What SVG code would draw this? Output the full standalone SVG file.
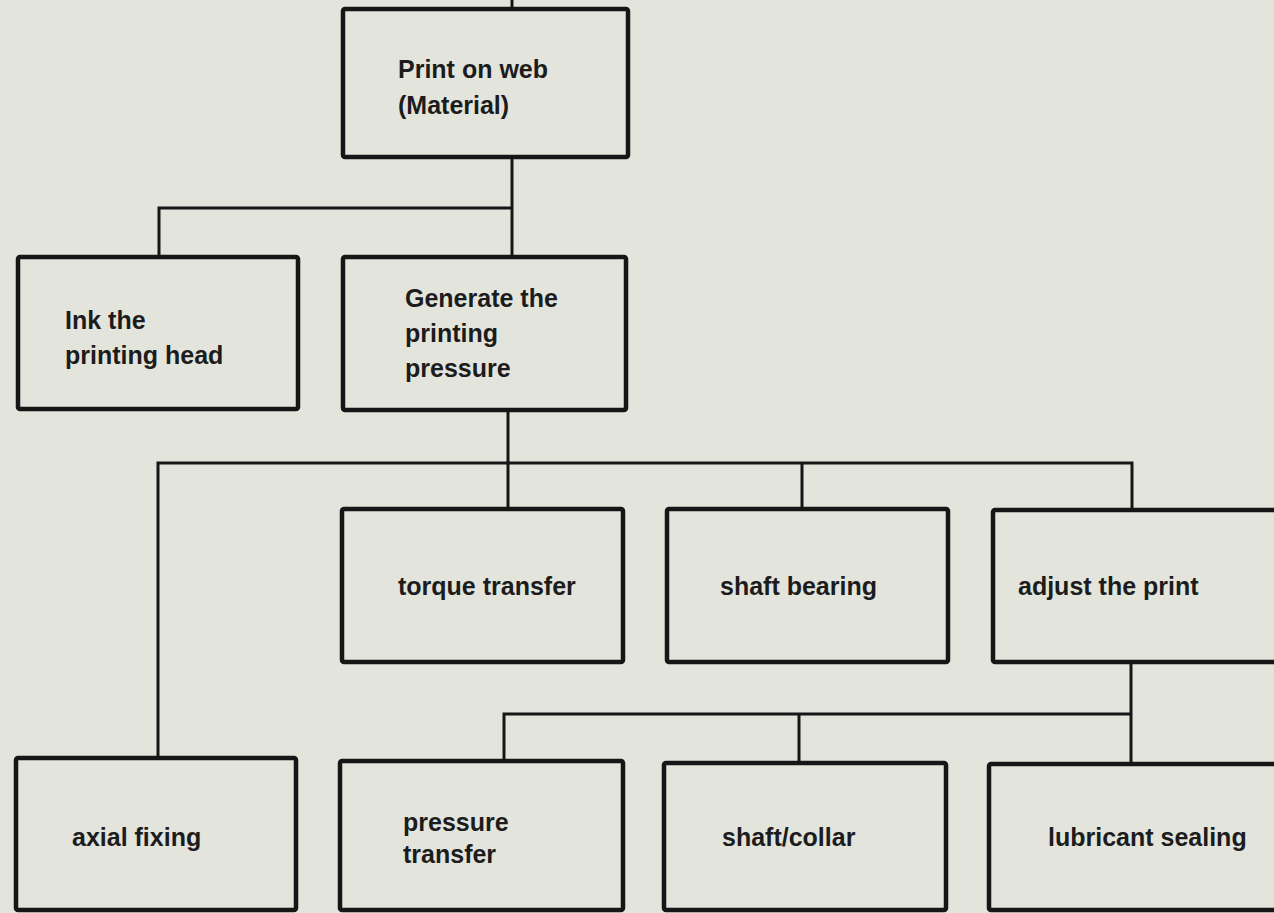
<svg xmlns="http://www.w3.org/2000/svg" width="1274" height="913" viewBox="0 0 1274 913">
  <style>
    .box { fill: none; stroke: #161616; stroke-width: 4.5; stroke-linejoin: round; }
    .wire { fill: none; stroke: #161616; stroke-width: 3; stroke-linejoin: miter; }
    .label { font-family: "Liberation Sans", Arial, sans-serif; font-weight: bold; font-size: 25px; fill: #1c1c1c; }
  </style>
  <rect x="0" y="0" width="1274" height="913" fill="#e3e5dc"/>

  <g id="connectors">
    <!-- feed into top function -->
    <polyline class="wire" points="512,0 512,9"/>
    <!-- top function to first level -->
    <polyline class="wire" points="512,157 512,257"/>
    <polyline class="wire" points="159,257 159,208 512,208"/>
    <!-- printing pressure to its sub-functions -->
    <polyline class="wire" points="508,410 508,509"/>
    <polyline class="wire" points="158,758 158,463 1132,463 1132,510"/>
    <polyline class="wire" points="802,463 802,509"/>
    <!-- adjust the print to its sub-functions -->
    <polyline class="wire" points="1131,662 1131,764"/>
    <polyline class="wire" points="504,761 504,714 1131,714"/>
    <polyline class="wire" points="799,714 799,763"/>
  </g>

  <g id="print-on-web">
    <rect class="box" x="343" y="9" width="285" height="148" rx="2"/>
    <text class="label" x="398" y="78">Print on web</text>
    <text class="label" x="398" y="114">(Material)</text>
  </g>

  <g id="ink-head">
    <rect class="box" x="18" y="257" width="280" height="152" rx="2"/>
    <text class="label" x="65" y="329">Ink the</text>
    <text class="label" x="65" y="364">printing head</text>
  </g>

  <g id="generate-pressure">
    <rect class="box" x="343" y="257" width="283" height="153" rx="2"/>
    <text class="label" x="405" y="307">Generate the</text>
    <text class="label" x="405" y="342">printing</text>
    <text class="label" x="405" y="377">pressure</text>
  </g>

  <g id="torque-transfer">
    <rect class="box" x="342" y="509" width="281" height="153" rx="2"/>
    <text class="label" x="398" y="595">torque transfer</text>
  </g>

  <g id="shaft-bearing">
    <rect class="box" x="667" y="509" width="281" height="153" rx="2"/>
    <text class="label" x="720" y="595">shaft bearing</text>
  </g>

  <g id="adjust-print">
    <rect class="box" x="993" y="510" width="300" height="152" rx="2"/>
    <text class="label" x="1018" y="595">adjust the print</text>
  </g>

  <g id="axial-fixing">
    <rect class="box" x="16" y="758" width="280" height="152" rx="2"/>
    <text class="label" x="72" y="846">axial fixing</text>
  </g>

  <g id="pressure-transfer">
    <rect class="box" x="340" y="761" width="283" height="149" rx="2"/>
    <text class="label" x="403" y="831">pressure</text>
    <text class="label" x="403" y="863">transfer</text>
  </g>

  <g id="shaft-collar">
    <rect class="box" x="664" y="763" width="282" height="147" rx="2"/>
    <text class="label" x="722" y="846">shaft/collar</text>
  </g>

  <g id="lubricant-sealing">
    <rect class="box" x="989" y="764" width="304" height="146" rx="2"/>
    <text class="label" x="1048" y="846">lubricant sealing</text>
  </g>
</svg>
